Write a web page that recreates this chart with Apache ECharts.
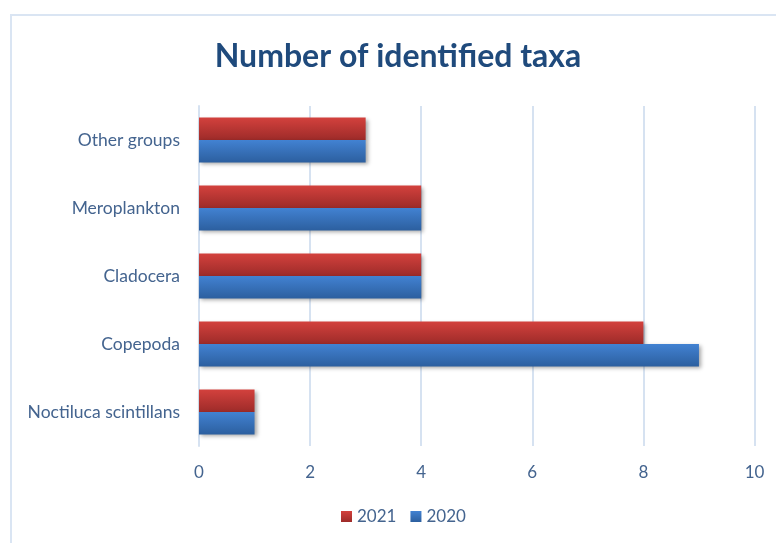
<!DOCTYPE html>
<html>
<head>
<meta charset="utf-8">
<script src="https://cdn.jsdelivr.net/npm/echarts@6/dist/echarts.min.js"></script>
<style>
  html, body { margin: 0; padding: 0; background: #ffffff; }
  #chart { width: 776px; height: 543px; }
</style>
</head>
<body>
<div id="chart"></div>
<script>
// Taxa groups, listed from the bottom of the axis to the top
const categories = ['Noctiluca scintillans', 'Copepoda', 'Cladocera', 'Meroplankton', 'Other groups'];
const taxa2020 = [1, 9, 4, 4, 3];
const taxa2021 = [1, 8, 4, 4, 3];
const xTicks = [0, 2, 4, 6, 8, 10];

const FONT = 'Lato, "Open Sans", sans-serif';
const TEXT = '#44648f';

function grad(top, bottom) {
  return new echarts.graphic.LinearGradient(0, 0, 0, 1, [
    { offset: 0, color: top },
    { offset: 1, color: bottom }
  ]);
}

const barShadow = {
  shadowBlur: 4,
  shadowOffsetX: 2,
  shadowOffsetY: 2,
  shadowColor: 'rgba(0,0,0,0.35)'
};

const chart = echarts.init(document.getElementById('chart'), null, { renderer: 'canvas' });
chart.setOption({
  animation: false,
  backgroundColor: '#ffffff',
  textStyle: { fontFamily: FONT },
  title: {
    text: 'Number of identified taxa',
    left: 393,
    textAlign: 'center',
    top: 36,
    textStyle: { fontFamily: FONT, fontSize: 32, fontWeight: 'bold', color: '#1f4a7c' }
  },
  graphic: [{
    type: 'rect',
    shape: { x: 11, y: 15, width: 820, height: 620 },
    style: { fill: 'none', stroke: '#dae5f3', lineWidth: 2 },
    silent: true
  }],
  legend: {
    data: ['2021', '2020'],
    left: 341,
    top: 508,
    padding: 0,
    itemWidth: 11,
    itemHeight: 11,
    itemGap: 14,
    icon: 'rect',
    textStyle: { fontFamily: FONT, fontSize: 17, color: TEXT }
  },
  grid: { left: 199, right: 21.5, top: 106, bottom: 97, containLabel: false },
  xAxis: {
    type: 'value',
    min: xTicks[0],
    max: xTicks[xTicks.length - 1],
    interval: 2,
    axisLine: { show: false },
    axisTick: { show: false },
    splitLine: { show: true, lineStyle: { color: '#d6e2f1', width: 2 } },
    axisLabel: { fontFamily: FONT, fontSize: 17, color: TEXT, margin: 18 }
  },
  yAxis: {
    type: 'category',
    data: categories,
    axisLine: { show: true, lineStyle: { color: '#d6e2f1', width: 2 } },
    axisTick: { show: false },
    axisLabel: { fontFamily: FONT, fontSize: 17.5, color: TEXT, margin: 19 }
  },
  series: [
    {
      name: '2021',
      type: 'bar',
      data: taxa2021,
      barGap: '0%',
      barCategoryGap: '34%',
      itemStyle: Object.assign({ color: grad('#d3413d', '#9d2b29') }, barShadow)
    },
    {
      name: '2020',
      type: 'bar',
      data: taxa2020,
      barGap: '0%',
      barCategoryGap: '34%',
      itemStyle: Object.assign({ color: grad('#4282d2', '#2c5f9f') }, barShadow)
    }
  ]
});
</script>
</body>
</html>
